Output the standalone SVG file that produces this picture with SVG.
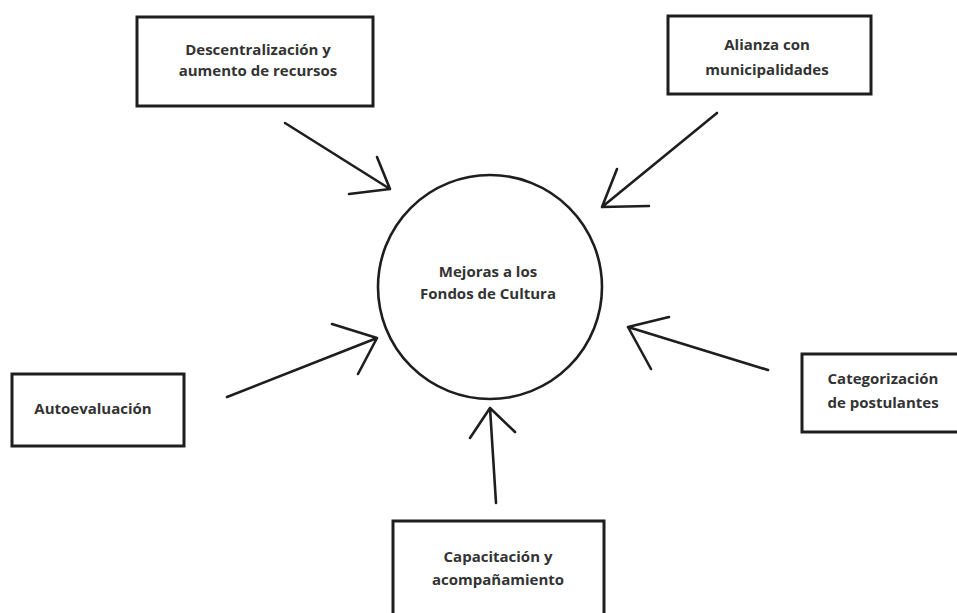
<svg xmlns="http://www.w3.org/2000/svg" width="957" height="613" viewBox="0 0 957 613">
<style>
.box{fill:#fff;stroke:#1e1e1e;stroke-width:3}
.lbl{font-family:"Open Sans","Liberation Sans",sans-serif;font-weight:700;font-size:15px;fill:#333;text-anchor:middle}
.arr{fill:none;stroke:#1e1e1e;stroke-width:2.6;stroke-linecap:round;stroke-linejoin:round}
</style>
<rect width="957" height="613" fill="#fff"/>
<g id="center">
<circle cx="490" cy="287" r="112" fill="#fff" stroke="#1e1e1e" stroke-width="2.6"/>
<text class="lbl" x="488" y="277">Mejoras a los</text>
<text class="lbl" x="488" y="299">Fondos de Cultura</text>
</g>
<g id="n1">
<rect class="box" x="137" y="17" width="236" height="89"/>
<text class="lbl" x="258" y="55">Descentralización y</text>
<text class="lbl" x="258" y="76">aumento de recursos</text>
</g>
<g id="n2">
<rect class="box" x="668" y="16" width="203" height="78"/>
<text class="lbl" x="767" y="50">Alianza con</text>
<text class="lbl" x="767" y="75">municipalidades</text>
</g>
<g id="n3">
<rect class="box" x="12" y="374" width="172" height="72"/>
<text class="lbl" x="93" y="414">Autoevaluación</text>
</g>
<g id="n4">
<rect class="box" x="802" y="354" width="160" height="78"/>
<text class="lbl" x="883" y="384">Categorización</text>
<text class="lbl" x="883" y="408">de postulantes</text>
</g>
<g id="n5">
<rect class="box" x="393" y="521" width="211" height="100"/>
<text class="lbl" x="498" y="562">Capacitación y</text>
<text class="lbl" x="498" y="585">acompañamiento</text>
</g>
<g id="connectors">
<path class="arr" d="M285,123 L390,189 M377,157 L390,189 L349,194"/>
<path class="arr" d="M717,113 L602,207 M617,169 L602,207 L649,206"/>
<path class="arr" d="M227,397 L377,338 M332,324 L377,338 L358,374"/>
<path class="arr" d="M768,370 L628,327 M669,317 L628,327 L651,369"/>
<path class="arr" d="M496,503 L490,408 M470,438 L490,408 L515,432"/>
</g>
</svg>
